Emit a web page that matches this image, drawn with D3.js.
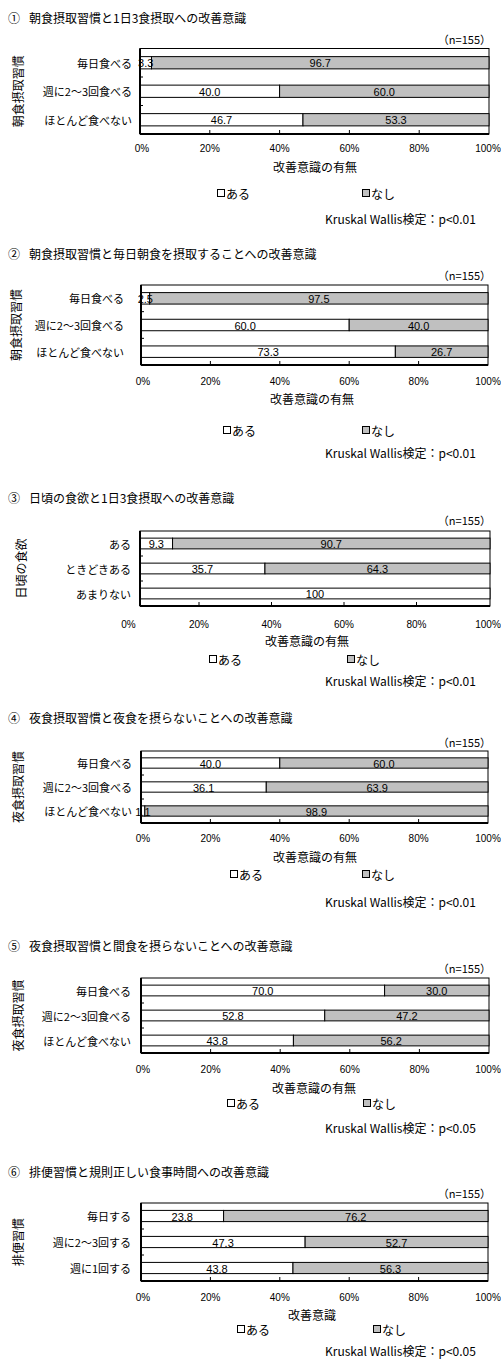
<!DOCTYPE html>
<html><head><meta charset="utf-8">
<script src="https://cdn.jsdelivr.net/npm/d3@7"></script>
<style>
html,body{margin:0;padding:0;background:#fff;}
svg{display:block;}
</style></head>
<body>
<svg id="chart" width="501" height="1359"></svg>
<script>
// ---------- DATA ----------
const panelNumbers = ["①","②","③","④","⑤","⑥"];
const panelTitles = [
  "朝食摂取習慣と1日3食摂取への改善意識",
  "朝食摂取習慣と毎日朝食を摂取することへの改善意識",
  "日頃の食欲と1日3食摂取への改善意識",
  "夜食摂取習慣と夜食を摂らないことへの改善意識",
  "夜食摂取習慣と間食を摂らないことへの改善意識",
  "排便習慣と規則正しい食事時間への改善意識"
];
const yAxisTitles = ["朝食摂取習慣","朝食摂取習慣","日頃の食欲","夜食摂取習慣","夜食摂取習慣","排便習慣"];
const xAxisTitles = ["改善意識の有無","改善意識の有無","改善意識の有無","改善意識の有無","改善意識の有無","改善意識"];
const testTexts = ["Kruskal Wallis検定：p<0.01","Kruskal Wallis検定：p<0.01","Kruskal Wallis検定：p<0.01","Kruskal Wallis検定：p<0.01","Kruskal Wallis検定：p<0.05","Kruskal Wallis検定：p<0.05"];
const seriesNames = ["ある","なし"];
const nText = "（n=155）";
const tickValues = [0,20,40,60,80,100];

const categories1 = ["毎日食べる","週に2～3回食べる","ほとんど食べない"];
const aru1 = [3.3, 40.0, 46.7];
const nashi1 = [96.7, 60.0, 53.3];

const categories2 = ["毎日食べる","週に2～3回食べる","ほとんど食べない"];
const aru2 = [2.5, 60.0, 73.3];
const nashi2 = [97.5, 40.0, 26.7];

const categories3 = ["ある","ときどきある","あまりない"];
const aru3 = [9.3, 35.7, 100];
const nashi3 = [90.7, 64.3, 0];

const categories4 = ["毎日食べる","週に2～3回食べる","ほとんど食べない"];
const aru4 = [40.0, 36.1, 1.1];
const nashi4 = [60.0, 63.9, 98.9];

const categories5 = ["毎日食べる","週に2～3回食べる","ほとんど食べない"];
const aru5 = [70.0, 52.8, 43.8];
const nashi5 = [30.0, 47.2, 56.2];

const categories6 = ["毎日する","週に2～3回する","週に1回する"];
const aru6 = [23.8, 47.3, 43.8];
const nashi6 = [76.2, 52.7, 56.3];

const allCats = [categories1,categories2,categories3,categories4,categories5,categories6];
const allAru = [aru1,aru2,aru3,aru4,aru5,aru6];
const allNashi = [nashi1,nashi2,nashi3,nashi4,nashi5,nashi6];

// ---------- LAYOUT ----------
const layouts = [
  {titleY:17, nY:39, top:48.5, bottom:134, left:140, right:489, catRight:132, yTitleX:17, tickY:148, xTitleY:166, xTitleX:315, legY:193, legA:217, legB:362, pY:218},
  {titleY:253, nY:275, top:285, bottom:365, left:141, right:488, catRight:124, yTitleX:15, tickY:381, xTitleY:398, xTitleX:312, legY:430, legA:223, legB:362, pY:452},
  {titleY:497, nY:520, top:531, bottom:606, left:140, right:490, axLeft:126.5, axRight:489, catRight:131, yTitleX:20, tickY:624, xTitleY:640, xTitleX:307, legY:659, legA:209, legB:347, pY:680},
  {titleY:717, nY:742, top:751, bottom:823, left:141, right:488, catRight:132, yTitleX:17, tickY:838, xTitleY:856, xTitleX:315, legY:874, legA:230, legB:362, pY:901},
  {titleY:945, nY:968, top:978, bottom:1053, left:141, right:489, catRight:131, yTitleX:17, tickY:1069, xTitleY:1087, xTitleX:314, legY:1103, legA:227, legB:363, pY:1127},
  {titleY:1171, nY:1193, top:1203, bottom:1281, left:141, right:488, catRight:131, yTitleX:17, tickY:1297, xTitleY:1314, xTitleX:312, legY:1329, legA:237, legB:373, pY:1350}
];

const JP = "'Noto Sans CJK JP','Noto Sans',sans-serif";
const LAT = "'Liberation Sans',Arial,sans-serif";
const GRAY = "#c0c0c0";
const svg = d3.select("#chart");
const fmt = v => v === 100 ? "100" : d3.format(".1f")(v);

layouts.forEach((L, i) => {
  const g = svg.append("g");
  const cats = allCats[i];
  const rows = cats.map((c, k) => ({cat: c, aru: allAru[i][k], nashi: allNashi[i][k]}));

  const x = d3.scaleLinear().domain([0,100]).range([L.left, L.right]);
  const xAxisScale = d3.scaleLinear().domain([0,100]).range([L.axLeft ?? L.left, L.axRight ?? L.right]);
  const y = d3.scaleBand().domain(cats).range([L.top, L.bottom]).paddingInner(0.57).paddingOuter(0.285);

  // title
  const t = g.append("text").attr("y", L.titleY).attr("dominant-baseline","central")
    .style("font-family", JP).style("font-size","12px").attr("fill","#000");
  t.append("tspan").attr("x", 8).text(panelNumbers[i]);
  t.append("tspan").attr("x", 29).text(panelTitles[i]);

  // n=155
  g.append("text").attr("x", 491).attr("y", L.nY).attr("text-anchor","end").attr("dominant-baseline","central")
    .style("font-family", JP).style("font-size","11px").text(nText);

  // frame
  g.append("rect").attr("x", L.left).attr("y", L.top).attr("width", L.right - L.left).attr("height", L.bottom - L.top)
    .attr("fill","#fff").attr("stroke","#000").attr("stroke-width",1);

  // bars
  const stack = rows.map(r => [
    {cat: r.cat, x0: 0, x1: r.aru, v: r.aru, fill: "#fff"},
    {cat: r.cat, x0: r.aru, x1: r.aru + r.nashi, v: r.nashi, fill: GRAY}
  ]).flat().filter(d => d.v > 0);

  g.selectAll("rect.seg").data(stack).enter().append("rect").attr("class","seg")
    .attr("x", d => x(d.x0)).attr("width", d => Math.min(x(d.x1), L.right) - x(d.x0))
    .attr("y", d => y(d.cat)).attr("height", y.bandwidth())
    .attr("fill", d => d.fill).attr("stroke","#000").attr("stroke-width",1);

  g.selectAll("text.val").data(stack).enter().append("text").attr("class","val")
    .attr("x", d => x((d.x0 + Math.min(d.x1,100)) / 2)).attr("y", d => y(d.cat) + y.bandwidth()/2 + 0.5)
    .attr("text-anchor","middle").attr("dominant-baseline","central")
    .style("font-family", LAT).style("font-size","11px").attr("fill","#000").text(d => fmt(d.v));

  // axes lines (thicker left & bottom)
  g.append("line").attr("x1", L.left).attr("x2", L.left).attr("y1", L.top).attr("y2", L.bottom)
    .attr("stroke","#000").attr("stroke-width",2);
  g.append("line").attr("x1", L.left).attr("x2", L.right).attr("y1", L.bottom).attr("y2", L.bottom)
    .attr("stroke","#000").attr("stroke-width",2);

  // y ticks at band boundaries (inward)
  cats.slice(0, -1).forEach(c => {
    const yy = y(c) + y.bandwidth() + (y.step() - y.bandwidth())/2;
    g.append("line").attr("x1", L.left).attr("x2", L.left + 3).attr("y1", yy).attr("y2", yy)
      .attr("stroke","#000").attr("stroke-width",1);
  });

  // x ticks (inward) and labels
  tickValues.slice(1, -1).forEach(v => {
    g.append("line").attr("x1", xAxisScale(v)).attr("x2", xAxisScale(v)).attr("y1", L.bottom).attr("y2", L.bottom - 4)
      .attr("stroke","#000").attr("stroke-width",1);
  });
  g.selectAll("text.tick").data(tickValues).enter().append("text").attr("class","tick")
    .attr("x", d => Math.min(xAxisScale(d) + (d === 0 ? 2 : 0), 488)).attr("y", L.tickY)
    .attr("text-anchor","middle").attr("dominant-baseline","central")
    .style("font-family", LAT).style("font-size","10px").text(d => d + "%");

  // category labels
  g.selectAll("text.cat").data(cats).enter().append("text").attr("class","cat")
    .attr("x", L.catRight).attr("y", d => y(d) + y.bandwidth()/2)
    .attr("text-anchor","end").attr("dominant-baseline","central")
    .style("font-family", JP).style("font-size","11px").text(d => d);

  // y axis title (rotated)
  const yc = (L.top + L.bottom) / 2;
  g.append("text").attr("transform", `translate(${L.yTitleX},${yc}) rotate(-90)`)
    .attr("text-anchor","middle").attr("dominant-baseline","central")
    .style("font-family", JP).style("font-size","12px").text(yAxisTitles[i]);

  // x axis title
  g.append("text").attr("x", L.xTitleX).attr("y", L.xTitleY)
    .attr("text-anchor","middle").attr("dominant-baseline","central")
    .style("font-family", JP).style("font-size","12px").text(xAxisTitles[i]);

  // legend
  [[L.legA, "#fff", seriesNames[0]], [L.legB, GRAY, seriesNames[1]]].forEach(([lx, fill, name]) => {
    g.append("rect").attr("x", lx + 0.5).attr("y", L.legY - 3.5).attr("width", 7).attr("height", 7)
      .attr("fill", fill).attr("stroke","#000").attr("stroke-width",1);
    g.append("text").attr("x", lx + 9).attr("y", L.legY).attr("dominant-baseline","central")
      .style("font-family", JP).style("font-size","12px").text(name);
  });

  // test text
  g.append("text").attr("x", 325).attr("y", L.pY).attr("dominant-baseline","central")
    .style("font-family", JP).style("font-size","12px").text(testTexts[i]);
});
</script>
</body></html>
